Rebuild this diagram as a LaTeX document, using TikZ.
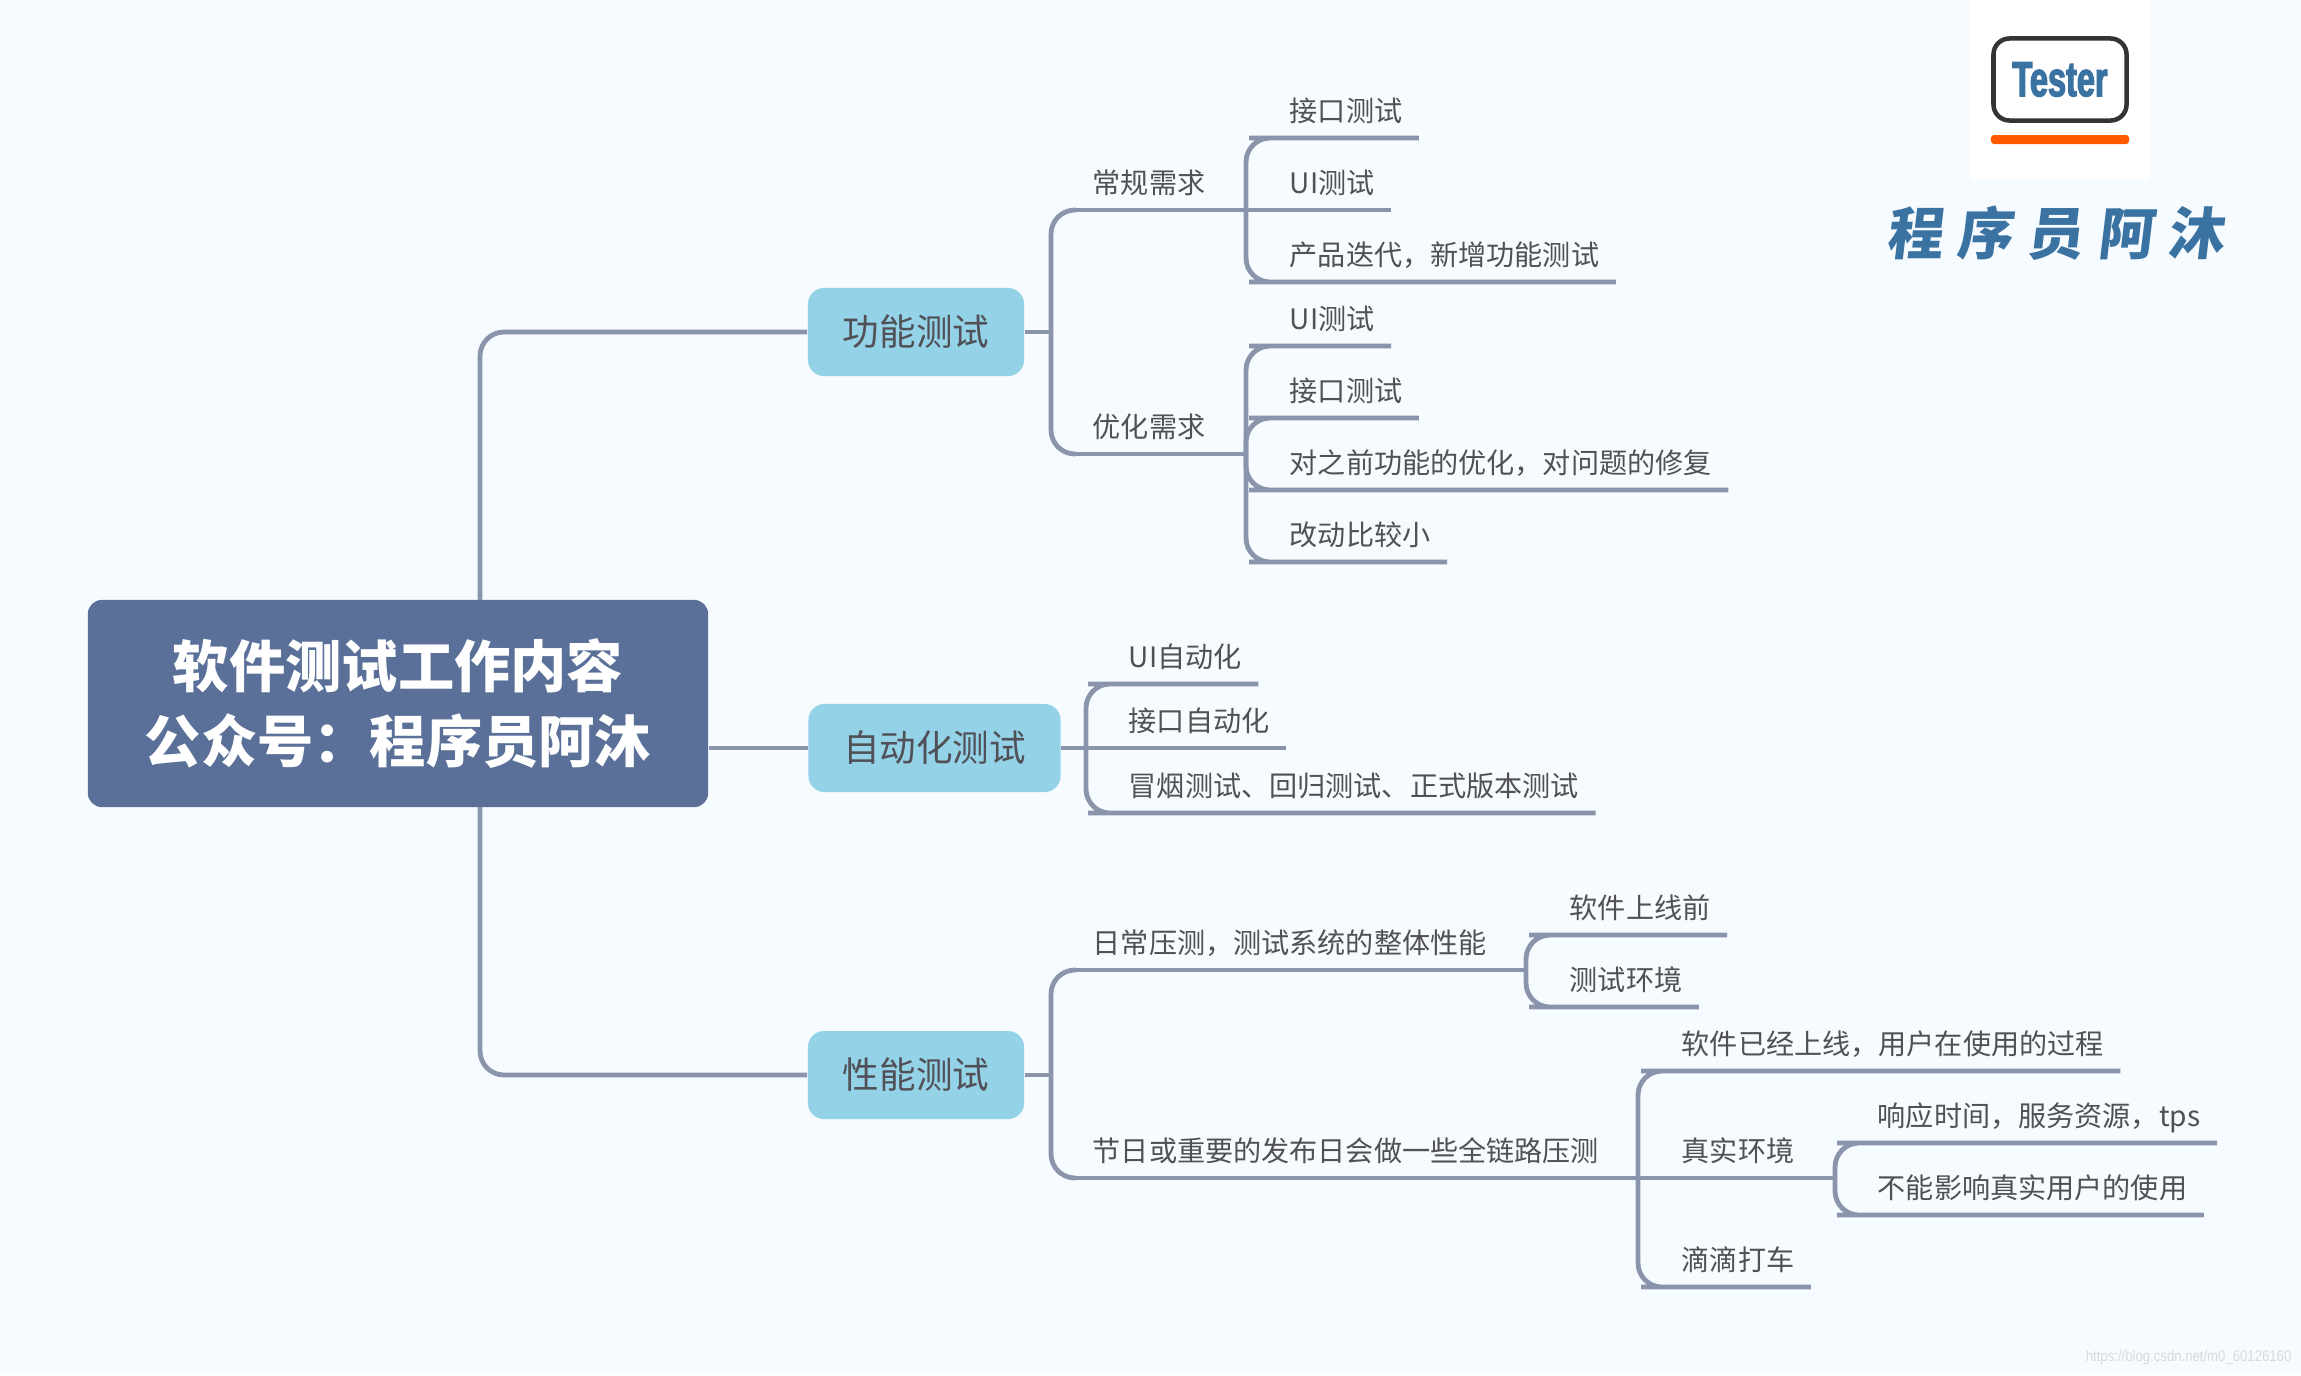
\documentclass[tikz,border=0pt]{standalone}
\usepackage{fontspec}
\setmainfont{Noto Sans CJK SC}
\newfontfamily\testerfont[FakeStretch=.66,FakeBold=2.5]{Liberation Sans Bold}
\newfontfamily\signfont[LetterSpace=25,FakeSlant=.12]{Noto Sans CJK SC}
\newfontfamily\markfont[FakeStretch=.85]{Liberation Sans}
\usepackage{xcolor}
\usepackage{tikz}
\usetikzlibrary{positioning}
\definecolor{pagebg}{RGB}{246,251,255}
\definecolor{rootblue}{RGB}{90,112,152}
\definecolor{branchblue}{RGB}{148,210,232}
\definecolor{linkgray}{RGB}{138,148,170}
\definecolor{textgray}{RGB}{80,80,86}
\definecolor{logoblue}{RGB}{58,114,162}
\definecolor{logodark}{RGB}{52,52,52}
\definecolor{logoorange}{RGB}{255,90,0}
\tikzset{
  rootbox/.style={fill=rootblue, rounded corners=.14cm, text=white, align=center, font=\fontsize{16}{21.3}\selectfont\bfseries, minimum width=6.2cm, minimum height=2.07cm},
  branchbox/.style={fill=branchblue, rounded corners=.16cm, text=textgray, font=\fontsize{10.4}{12}\selectfont, minimum height=.88cm},
  leaf/.style={anchor=south west, text=textgray, font=\fontsize{8}{10}\selectfont, inner xsep=.16cm, inner ysep=.095cm, text height=.24cm, text depth=.06cm},
  link/.style={draw=linkgray, line width=.048cm, rounded corners=.24cm},
}
\begin{document}
\begin{tikzpicture}[x=.01cm, y=-.01cm]
  \fill[pagebg] (0,0) rectangle (2301,1375);
  \useasboundingbox (0,0) rectangle (2301,1375);

  % main boxes
  \node[rootbox] (root) at (398,703.5) {软件测试工作内容\\公众号：程序员阿沐};
  \node[branchbox, minimum width=2.16cm] (func) at (916,332) {功能测试};
  \node[branchbox, minimum width=2.52cm] (auto) at (934.5,748) {自动化测试};
  \node[branchbox, minimum width=2.16cm] (perf) at (916,1075) {性能测试};
  \coordinate (roottop) at (480,600);
  \coordinate (rootbot) at (480,807);
  \draw[link] (roottop) |- (func.west);
  \draw[link] (rootbot) |- (perf.west);
  \draw[link] (root.east |- auto.west) -- (auto.west);

  % functional tests
  \coordinate (funcj) at (1051,332);
  \node[leaf] (need) at (1076,210) {常规需求};
  \node[leaf] (opt) at (1076,454) {优化需求};
  \coordinate (needj) at (1246,210);
  \coordinate (optj) at (1246,454);
  \draw[link] (func.east) -- (funcj);
  \draw[link] (funcj) |- (need.south west);
  \draw[link] (funcj) |- (opt.south west);
  \draw[link] (need.south west) -- (needj);
  \draw[link] (opt.south west) -- (optj);
  \node[leaf] (need1) at (1273,138) {接口测试};
  \node[leaf] (need2) at (1273,210) {UI测试};
  \node[leaf] (need3) at (1273,282) {产品迭代，新增功能测试};
  \node[leaf] (opt1) at (1273,346) {UI测试};
  \node[leaf] (opt2) at (1273,418) {接口测试};
  \node[leaf] (opt3) at (1273,490) {对之前功能的优化，对问题的修复};
  \node[leaf] (opt4) at (1273,562) {改动比较小};
  \draw[link] (needj) |- (need1.south west) -- (need1.south east);
  \draw[link] (needj) -- (need2.south west) -- (need2.south east);
  \draw[link] (needj) |- (need3.south west) -- (need3.south east);
  \draw[link] (optj) |- (opt1.south west) -- (opt1.south east);
  \draw[link] (optj) |- (opt2.south west) -- (opt2.south east);
  \draw[link] (optj) |- (opt3.south west) -- (opt3.south east);
  \draw[link] (optj) |- (opt4.south west) -- (opt4.south east);

  % automated tests
  \coordinate (autoj) at (1086,748);
  \node[leaf] (auto1) at (1112,684) {UI自动化};
  \node[leaf] (auto2) at (1112,748) {接口自动化};
  \node[leaf] (auto3) at (1112,813) {冒烟测试、回归测试、正式版本测试};
  \draw[link] (auto.east) -- (autoj);
  \draw[link] (autoj) |- (auto1.south west) -- (auto1.south east);
  \draw[link] (autoj) -- (auto2.south west) -- (auto2.south east);
  \draw[link] (autoj) |- (auto3.south west) -- (auto3.south east);

  % performance tests
  \coordinate (perfj) at (1051,1075);
  \node[leaf] (daily) at (1076,970) {日常压测，测试系统的整体性能};
  \node[leaf] (full) at (1076,1178) {节日或重要的发布日会做一些全链路压测};
  \coordinate (dailyj) at (1526,970);
  \coordinate (fullj) at (1638,1178);
  \draw[link] (perf.east) -- (perfj);
  \draw[link] (perfj) |- (daily.south west);
  \draw[link] (perfj) |- (full.south west);
  \draw[link] (daily.south west) -- (dailyj);
  \draw[link] (full.south west) -- (fullj);
  \node[leaf] (daily1) at (1553,935) {软件上线前};
  \node[leaf] (daily2) at (1553,1007) {测试环境};
  \draw[link] (dailyj) |- (daily1.south west) -- (daily1.south east);
  \draw[link] (dailyj) |- (daily2.south west) -- (daily2.south east);
  \node[leaf] (full1) at (1665,1071) {软件已经上线，用户在使用的过程};
  \node[leaf] (full2) at (1665,1178) {真实环境};
  \node[leaf] (full3) at (1665,1287) {滴滴打车};
  \coordinate (realj) at (1835,1178);
  \draw[link] (fullj) |- (full1.south west) -- (full1.south east);
  \draw[link] (fullj) -- (full2.south west) -- (realj);
  \draw[link] (fullj) |- (full3.south west) -- (full3.south east);
  \node[leaf] (real1) at (1861,1143) {响应时间，服务资源，tps};
  \node[leaf] (real2) at (1861,1215) {不能影响真实用户的使用};
  \draw[link] (realj) |- (real1.south west) -- (real1.south east);
  \draw[link] (realj) |- (real2.south west) -- (real2.south east);

  % logo and signature
  \node[fill=white, minimum width=1.8cm, minimum height=1.8cm] (logo) at (2060,90) {};
  \node[draw=logodark, line width=.045cm, fill=white, rounded corners=.16cm, minimum width=1.33cm, minimum height=.82cm, text=logoblue, font=\testerfont\fontsize{14}{14}\selectfont] (tester) at (2060,79.5) {Tester};
  \node[fill=logoorange, rounded corners=.03cm, minimum width=1.38cm, minimum height=.09cm, inner sep=0pt] (bar) at (2060,139.5) {};
  \node[text=logoblue, font=\signfont\fontsize{16}{16}\selectfont\bfseries, inner sep=0pt] (sign) at (2055,233) {程序员阿沐};
  \node[anchor=east, text=gray!30, font=\markfont\fontsize{4.4}{5}\selectfont, inner sep=0pt] (mark) at (2292,1357) {https://blog.csdn.net/m0\_60126160};
\end{tikzpicture}
\end{document}
